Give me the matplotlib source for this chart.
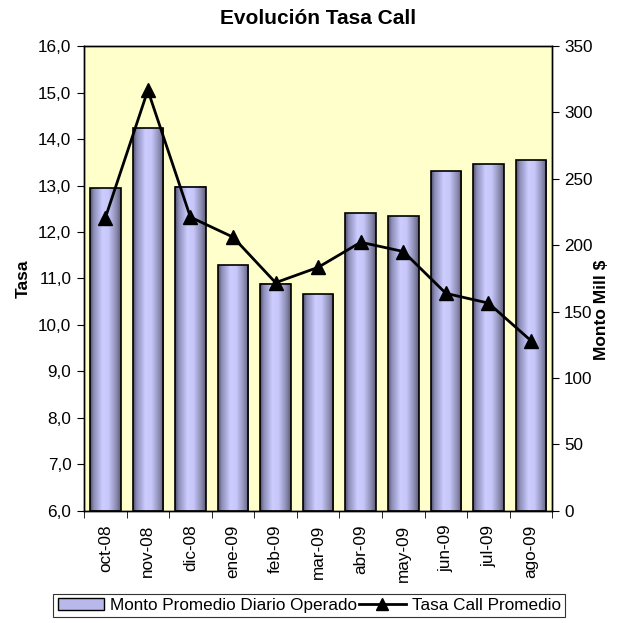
import numpy as np
import matplotlib.pyplot as plt
from matplotlib.colors import LinearSegmentedColormap
from matplotlib.patches import Patch
from matplotlib.lines import Line2D

plt.rcParams['font.family'] = ['Liberation Sans', 'DejaVu Sans']

meses = ['oct-08', 'nov-08', 'dic-08', 'ene-09', 'feb-09', 'mar-09',
         'abr-09', 'may-09', 'jun-09', 'jul-09', 'ago-09']
monto = [243, 288, 244, 185, 171, 163, 224, 222, 256, 261, 264]
tasa = [12.3, 15.05, 12.32, 11.89, 10.91, 11.24, 11.78, 11.58, 10.68, 10.47, 9.66]

x = np.arange(len(meses))
ancho = 0.72
fs = 12.3

# cylinder-like shading for the bars
sombra = LinearSegmentedColormap.from_list('cil', [
    (0.00, (0.30, 0.30, 0.40)),
    (0.12, (0.55, 0.55, 0.72)),
    (0.40, (0.80, 0.80, 1.00)),
    (0.60, (0.78, 0.78, 0.98)),
    (0.85, (0.55, 0.55, 0.70)),
    (1.00, (0.35, 0.35, 0.45)),
])
grad = np.linspace(0, 1, 256).reshape(1, -1)

fig = plt.figure(figsize=(6.22, 6.23), dpi=100)
ax = fig.add_axes([0.135, 0.18, 0.753, 0.746])
ax2 = ax.twinx()

# bars on the right axis, drawn underneath the line axis
ax.set_zorder(2)
ax.patch.set_visible(False)
ax2.set_zorder(1)
ax2.patch.set_facecolor('#FFFFCC')
ax2.patch.set_visible(True)

barras = ax2.bar(x, monto, width=ancho, color='none', edgecolor='black',
                 linewidth=1.2, zorder=3)
for b in barras:
    x0, y0 = b.get_x(), b.get_y()
    ax2.imshow(grad, cmap=sombra, aspect='auto', zorder=2,
               extent=[x0, x0 + b.get_width(), y0, y0 + b.get_height()])

ax.plot(x, tasa, color='black', linewidth=2, marker='^', markersize=10,
        zorder=5)

ax.set_xlim(-0.5, len(meses) - 0.5)
ax2.set_xlim(-0.5, len(meses) - 0.5)
ax.set_ylim(6, 16)
ax2.set_ylim(0, 350)

ax.set_yticks(np.arange(6, 16.1, 1))
ax.set_yticklabels([f'{v:.1f}'.replace('.', ',') for v in np.arange(6, 16.1, 1)])
ax2.set_yticks(np.arange(0, 351, 50))

ax.set_xticks(x)
ax.set_xticklabels(meses, rotation=90)
ax.set_xticks(np.arange(-0.5, len(meses)), minor=True)
ax.tick_params(axis='x', which='major', length=0, pad=10)
ax.tick_params(axis='x', which='minor', length=5, direction='out')
ax.tick_params(axis='y', length=5, direction='out', pad=4)
ax2.tick_params(axis='y', length=5, direction='out', pad=3.5)
for a in (ax, ax2):
    a.tick_params(labelsize=fs)
    for s in a.spines.values():
        s.set_linewidth(1.0)

ax.set_ylabel('Tasa', fontsize=12.5, fontweight='bold')
ax.yaxis.set_label_coords(-0.114, 0.5)
ax2.set_ylabel('Monto Mill $', fontsize=12.5, fontweight='bold')
ax2.yaxis.set_label_coords(1.089, 0.432)
ax.set_title('Evolución Tasa Call', fontsize=15, fontweight='bold', pad=16)

handles = [
    Patch(facecolor=(0.72, 0.72, 0.92), edgecolor='black',
          label='Monto Promedio Diario Operado'),
    Line2D([0], [0], color='black', linewidth=2, marker='^', markersize=9,
           label='Tasa Call Promedio'),
]
leg = fig.legend(handles=handles, loc='center', bbox_to_anchor=(0.497, 0.028),
                 ncol=2, fontsize=fs, frameon=True, fancybox=False,
                 edgecolor='black', handlelength=2.7, handletextpad=0.35,
                 columnspacing=0.15, borderpad=0.25, borderaxespad=0)
leg.get_frame().set_linewidth(0.8)

fig.savefig('out.png', dpi=100)
